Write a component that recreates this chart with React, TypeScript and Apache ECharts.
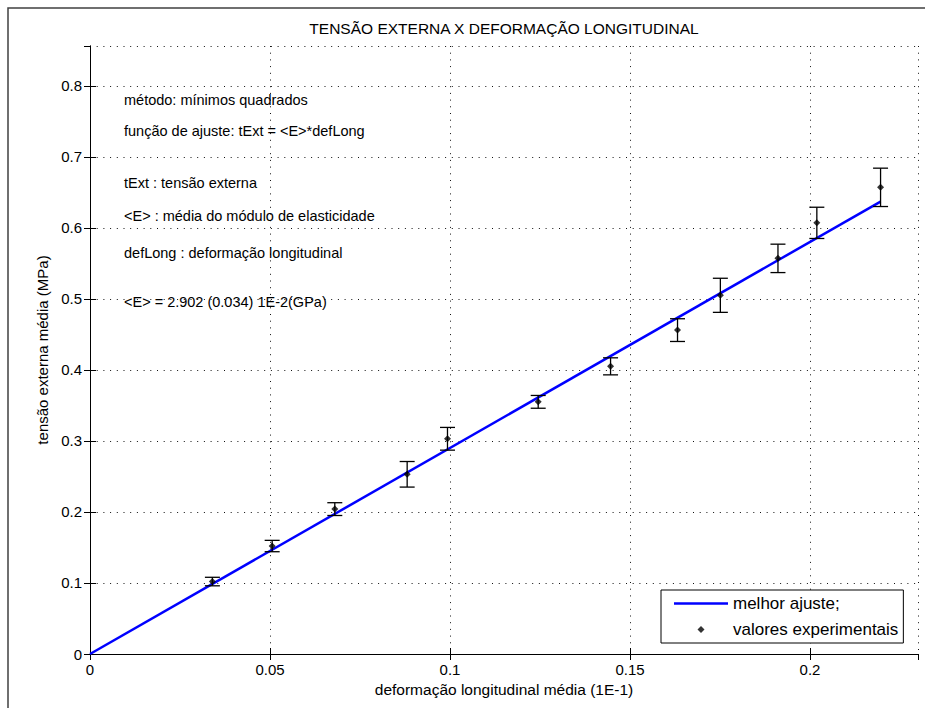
import React, { useEffect, useRef } from "react";
import * as echarts from "echarts";

// experimental points (x: deformação longitudinal média, y: tensão externa média, err: desvio)
const expX = [0.034, 0.0506, 0.068, 0.0881, 0.0993, 0.1245, 0.1446, 0.1632, 0.1751, 0.1911, 0.2019, 0.2196];
const expY = [0.102, 0.152, 0.204, 0.253, 0.303, 0.355, 0.405, 0.456, 0.505, 0.557, 0.607, 0.657];
const expErr = [0.006, 0.008, 0.009, 0.018, 0.016, 0.009, 0.012, 0.016, 0.024, 0.020, 0.022, 0.027];

// best fit line endpoints
const fitX = [0, 0.2196];
const fitY = [0, 0.637];

const xTicks = [0, 0.05, 0.1, 0.15, 0.2];
const yTicks = [0, 0.1, 0.2, 0.3, 0.4, 0.5, 0.6, 0.7, 0.8];

const annotations = [
  "método: mínimos quadrados",
  "função de ajuste: tExt = <E>*defLong",
  "tExt : tensão externa",
  "<E> : média do módulo de elasticidade",
  "defLong : deformação longitudinal",
  "<E> = 2.902 (0.034) 1E-2(GPa)",
];
const annotationY = [100, 131, 183, 216, 253, 302];

const FONT = "'Liberation Sans', Arial, Helvetica, sans-serif";

export default function App() {
  const ref = useRef<HTMLDivElement>(null);
  useEffect(() => {
    if (!ref.current) return;
    const chart = echarts.init(ref.current, null, { renderer: "svg" });
    const gridLine = { show: true, lineStyle: { color: "#111", width: 1, type: [1, 5.7] as any } };
    const fmtX = (v: number) => (xTicks.some((t) => Math.abs(t - v) < 1e-9) ? String(+v.toFixed(2)) : "");
    const fmtY = (v: number) => (yTicks.some((t) => Math.abs(t - v) < 1e-9) ? String(+v.toFixed(1)) : "");
    const axisLine = { show: true, lineStyle: { color: "#000", width: 1 } };
    const tick = { show: true, inside: true, length: 6, lineStyle: { color: "#000", width: 1 } };
    const option: any = {
      animation: false,
      backgroundColor: "#fff",
      textStyle: { fontFamily: FONT },
      title: {
        text: "TENSÃO EXTERNA X DEFORMAÇÃO LONGITUDINAL",
        left: 504,
        top: 20,
        padding: 0,
        textAlign: "center",
        textStyle: { fontFamily: FONT, fontSize: 15.5, fontWeight: "normal", color: "#000" },
      },
      grid: { left: 90, top: 46, right: 7, bottom: 54, containLabel: false },
      xAxis: [
        {
          type: "value",
          min: 0,
          max: 0.23,
          interval: 0.05,
          name: "deformação longitudinal média (1E-1)",
          nameLocation: "middle",
          nameGap: 27,
          nameTextStyle: { fontFamily: FONT, fontSize: 15.5, color: "#000" },
          axisLine,
          axisTick: tick,
          splitLine: gridLine,
          axisLabel: { formatter: fmtX, fontFamily: FONT, fontSize: 15, color: "#000", margin: 8, showMaxLabel: false },
        },
        {
          type: "value",
          position: "top",
          min: 0,
          max: 0.23,
          interval: 0.05,
          axisLine,
          axisTick: tick,
          splitLine: { show: false },
          axisLabel: { show: false },
        },
      ],
      yAxis: [
        {
          type: "value",
          min: 0,
          max: 0.856,
          interval: 0.1,
          name: "tensão externa média (MPa)",
          nameLocation: "middle",
          nameGap: 35,
          nameTextStyle: { fontFamily: FONT, fontSize: 15, color: "#000" },
          axisLine,
          axisTick: tick,
          splitLine: gridLine,
          axisLabel: { formatter: fmtY, fontFamily: FONT, fontSize: 15, color: "#000", margin: 8, showMaxLabel: false },
        },
        {
          type: "value",
          position: "right",
          min: 0,
          max: 0.856,
          interval: 0.1,
          axisLine,
          axisTick: tick,
          splitLine: { show: false },
          axisLabel: { show: false },
        },
      ],
      legend: {
        orient: "vertical",
        left: 661,
        top: 590,
        padding: [5, 5, 5, 13],
        itemGap: 9,
        itemWidth: 54,
        itemHeight: 7,
        borderColor: "#000",
        borderWidth: 1,
        backgroundColor: "#fff",
        textStyle: { fontFamily: FONT, fontSize: 17, color: "#000" },
        data: [
          { name: "melhor ajuste;", icon: "path://M0,0h54v2.5h-54z" },
          { name: "valores experimentais", icon: "path://M3.5,0L7,3.5L3.5,7L0,3.5z" },
        ],
      },
      series: [
        {
          name: "melhor ajuste;",
          type: "line",
          data: fitX.map((x, i) => [x, fitY[i]]),
          symbol: "none",
          lineStyle: { color: "#0000ff", width: 2.5 },
          itemStyle: { color: "#0000ff" },
          z: 2,
        },
        {
          name: "errorbars",
          type: "custom",
          data: expX.map((x, i) => [x, expY[i], expErr[i]]),
          renderItem: (params: any, api: any) => {
            const x = api.value(0);
            const y = api.value(1);
            const e = api.value(2);
            const top = api.coord([x, y + e]);
            const bot = api.coord([x, y - e]);
            const hw = 7.5;
            const style = { stroke: "#000", lineWidth: 1.3 };
            return {
              type: "group",
              children: [
                { type: "line", shape: { x1: top[0], y1: top[1], x2: bot[0], y2: bot[1] }, style },
                { type: "line", shape: { x1: top[0] - hw, y1: top[1], x2: top[0] + hw, y2: top[1] }, style },
                { type: "line", shape: { x1: bot[0] - hw, y1: bot[1], x2: bot[0] + hw, y2: bot[1] }, style },
              ],
            };
          },
          z: 3,
        },
        {
          name: "valores experimentais",
          type: "scatter",
          data: expX.map((x, i) => [x, expY[i]]),
          symbol: "diamond",
          symbolSize: 7,
          itemStyle: { color: "#000" },
          z: 4,
        },
      ],
      graphic: [
        {
          type: "rect",
          shape: { x: 8, y: 8, width: 940, height: 720 },
          style: { fill: "none", stroke: "#404040", lineWidth: 1.5 },
          silent: true,
        },
        ...annotations.map((t, i) => ({
          type: "text",
          x: 124,
          y: annotationY[i],
          style: { text: t, fontFamily: FONT, fontSize: 14.5, fill: "#000", verticalAlign: "middle", align: "left" },
          z: 10,
        })),
      ],
    };
    chart.setOption(option);
    return () => chart.dispose();
  }, []);
  return <div ref={ref} style={{ position: "fixed", left: 0, top: 0, width: 925, height: 708 }} />;
}
